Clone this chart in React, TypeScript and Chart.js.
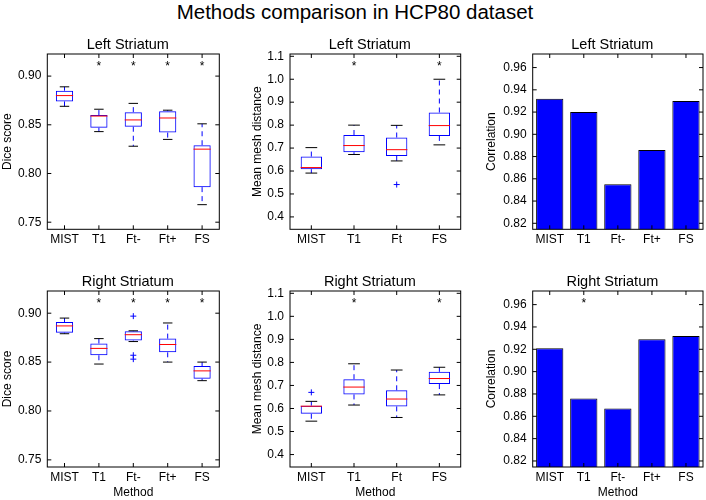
import React, { useEffect, useRef } from 'react';
import { Chart, registerables } from 'chart.js';

Chart.register(...registerables);

const W = 706;
const H = 500;
const FONT = '"Liberation Sans", Arial, Helvetica, sans-serif';
const BLUE = '#0000ff';
const RED = '#ff0000';

// ---------- categories ----------
const diceCats = ['MIST', 'T1', 'Ft-', 'Ft+', 'FS'];
const meshCats = ['MIST', 'T1', 'Ft', 'FS'];
const corrCats = ['MIST', 'T1', 'Ft-', 'Ft+', 'FS'];

// ---------- tick labels ----------
const diceTicks = [0.75, 0.8, 0.85, 0.9];
const meshTicks = [0.4, 0.5, 0.6, 0.7, 0.8, 0.9, 1.0, 1.1];
const corrTicks = [0.82, 0.84, 0.86, 0.88, 0.9, 0.92, 0.94, 0.96];

// ---------- Left Striatum – Dice score ----------
const diceLeftLow = [0.869, 0.843, 0.828, 0.835, 0.768];
const diceLeftQ1 = [0.874, 0.847, 0.848, 0.842, 0.786];
const diceLeftMed = [0.880, 0.859, 0.855, 0.857, 0.825];
const diceLeftQ3 = [0.885, 0.860, 0.863, 0.864, 0.829];
const diceLeftHigh = [0.889, 0.866, 0.872, 0.865, 0.851];
const diceLeftFliers: number[][] = [[], [], [], [], []];
const diceLeftStars = [null, 0.913, 0.913, 0.913, 0.913];

// ---------- Right Striatum – Dice score ----------
const diceRightLow = [0.879, 0.848, 0.871, 0.850, 0.831];
const diceRightQ1 = [0.880, 0.857, 0.872, 0.860, 0.833];
const diceRightMed = [0.887, 0.864, 0.878, 0.868, 0.841];
const diceRightQ3 = [0.891, 0.869, 0.8815, 0.874, 0.846];
const diceRightHigh = [0.895, 0.874, 0.882, 0.890, 0.850];
const diceRightFliers: number[][] = [[], [], [0.897, 0.857, 0.853], [], []];
const diceRightStars = [null, 0.913, 0.913, 0.913, 0.913];

// ---------- Left Striatum – Mean mesh distance ----------
const meshLeftLow = [0.591, 0.672, 0.644, 0.714];
const meshLeftQ1 = [0.608, 0.682, 0.666, 0.753];
const meshLeftMed = [0.615, 0.711, 0.693, 0.798];
const meshLeftQ3 = [0.663, 0.757, 0.746, 0.855];
const meshLeftHigh = [0.702, 0.800, 0.799, 1.0];
const meshLeftFliers: number[][] = [[], [], [0.541], []];
const meshLeftStars = [null, 1.068, null, 1.068];

// ---------- Right Striatum – Mean mesh distance ----------
const meshRightLow = [0.545, 0.615, 0.561, 0.659];
const meshRightQ1 = [0.577, 0.661, 0.609, 0.706];
const meshRightMed = [0.610, 0.693, 0.641, 0.730];
const meshRightQ3 = [0.612, 0.727, 0.679, 0.759];
const meshRightHigh = [0.631, 0.794, 0.767, 0.779];
const meshRightFliers: number[][] = [[0.670], [], [], []];
const meshRightStars = [null, 1.069, null, 1.069];

// ---------- Correlation ----------
const corrLeft = [0.932, 0.920, 0.855, 0.886, 0.930];
const corrRight = [0.921, 0.876, 0.867, 0.929, 0.932];
const corrLeftStars = [null, null, null, null, null];
const corrRightStars = [null, 0.9636, null, null, null];

// ---------- panel layout (pixel geometry of each axes box) ----------
type Area = { l: number; t: number; r: number; b: number };
const colL = [47.3, 290, 532.7];
const colR = [219.3, 460.7, 703];
const yTitleCenter = [6.7, 258, 492];
const rowT = [54, 291];
const rowB = [229.3, 467];
const TITLE_SHIFT = -5.5;

type PanelCfg = {
  kind: 'box' | 'bar';
  cats: string[];
  title: string;
  yTitle: string;
  xTitle: string;
  yMin: number;
  yMax: number;
  yTicks: number[];
  dec: number;
  low?: number[];
  q1?: number[];
  med?: number[];
  q3?: number[];
  high?: number[];
  fliers?: number[][];
  values?: number[];
  stars: (number | null)[];
  col: number;
  row: number;
};

const panels: PanelCfg[] = [
  {
    kind: 'box', cats: diceCats, title: 'Left Striatum', yTitle: 'Dice score', xTitle: '',
    yMin: 0.7427, yMax: 0.9227, yTicks: diceTicks, dec: 2,
    low: diceLeftLow, q1: diceLeftQ1, med: diceLeftMed, q3: diceLeftQ3, high: diceLeftHigh,
    fliers: diceLeftFliers, stars: diceLeftStars, col: 0, row: 0,
  },
  {
    kind: 'box', cats: meshCats, title: 'Left Striatum', yTitle: 'Mean mesh distance', xTitle: '',
    yMin: 0.346, yMax: 1.110, yTicks: meshTicks, dec: 1,
    low: meshLeftLow, q1: meshLeftQ1, med: meshLeftMed, q3: meshLeftQ3, high: meshLeftHigh,
    fliers: meshLeftFliers, stars: meshLeftStars, col: 1, row: 0,
  },
  {
    kind: 'bar', cats: corrCats, title: 'Left Striatum', yTitle: 'Correlation', xTitle: '',
    yMin: 0.8146, yMax: 0.9722, yTicks: corrTicks, dec: 2,
    values: corrLeft, stars: corrLeftStars, col: 2, row: 0,
  },
  {
    kind: 'box', cats: diceCats, title: 'Right Striatum', yTitle: 'Dice score', xTitle: 'Method',
    yMin: 0.7427, yMax: 0.9227, yTicks: diceTicks, dec: 2,
    low: diceRightLow, q1: diceRightQ1, med: diceRightMed, q3: diceRightQ3, high: diceRightHigh,
    fliers: diceRightFliers, stars: diceRightStars, col: 0, row: 1,
  },
  {
    kind: 'box', cats: meshCats, title: 'Right Striatum', yTitle: 'Mean mesh distance', xTitle: 'Method',
    yMin: 0.346, yMax: 1.110, yTicks: meshTicks, dec: 1,
    low: meshRightLow, q1: meshRightQ1, med: meshRightMed, q3: meshRightQ3, high: meshRightHigh,
    fliers: meshRightFliers, stars: meshRightStars, col: 1, row: 1,
  },
  {
    kind: 'bar', cats: corrCats, title: 'Right Striatum', yTitle: 'Correlation', xTitle: 'Method',
    yMin: 0.8146, yMax: 0.9722, yTicks: corrTicks, dec: 2,
    values: corrRight, stars: corrRightStars, col: 2, row: 1,
  },
];

// ---------- plugins ----------
function makeBoxPlugin(cfg: PanelCfg) {
  return {
    id: 'boxWhiskers',
    afterDatasetsDraw(chart: any) {
      if (cfg.kind !== 'box') return;
      const { ctx, chartArea: a } = chart;
      const xs = chart.scales.x;
      const ys = chart.scales.y;
      const meta = chart.getDatasetMeta(0);
      ctx.save();
      ctx.beginPath();
      ctx.rect(a.left, a.top, a.right - a.left, a.bottom - a.top);
      ctx.clip();
      ctx.lineWidth = 1;
      const seg = (x1: number, y1: number, x2: number, y2: number) => {
        ctx.beginPath();
        ctx.moveTo(x1, y1);
        ctx.lineTo(x2, y2);
        ctx.stroke();
      };
      cfg.low!.forEach((lo, i) => {
        const bar = meta.data[i];
        const cx = xs.getPixelForValue(i);
        const half = bar.width / 2;
        const capHalf = half * 0.55;
        const yLo = ys.getPixelForValue(lo);
        const yQ1 = ys.getPixelForValue(cfg.q1![i]);
        const yMed = ys.getPixelForValue(cfg.med![i]);
        const yQ3 = ys.getPixelForValue(cfg.q3![i]);
        const yHi = ys.getPixelForValue(cfg.high![i]);
        ctx.strokeStyle = BLUE;
        ctx.setLineDash([5, 4]);
        seg(cx, yQ3, cx, yHi);
        seg(cx, yQ1, cx, yLo);
        ctx.setLineDash([]);
        ctx.strokeStyle = '#000';
        seg(cx - capHalf, yHi, cx + capHalf, yHi);
        seg(cx - capHalf, yLo, cx + capHalf, yLo);
        ctx.strokeStyle = RED;
        seg(cx - half, yMed, cx + half, yMed);
      });
      ctx.restore();
    },
  };
}

function makeStarPlugin(cfg: PanelCfg) {
  return {
    id: 'sigStars',
    afterDatasetsDraw(chart: any) {
      const { ctx } = chart;
      const xs = chart.scales.x;
      const ys = chart.scales.y;
      ctx.save();
      ctx.fillStyle = '#000';
      ctx.font = `12px ${FONT}`;
      ctx.textAlign = 'center';
      ctx.textBaseline = 'alphabetic';
      const m = ctx.measureText('*');
      const asc = m.actualBoundingBoxAscent || 8.5;
      const desc = m.actualBoundingBoxDescent || -5;
      cfg.stars.forEach((v, i) => {
        if (v === null) return;
        const px = xs.getPixelForValue(i);
        const py = ys.getPixelForValue(v);
        ctx.fillText('*', px, py + (asc - desc) / 2);
      });
      ctx.restore();
    },
  };
}

const titleShiftPlugin = {
  id: 'titleShift',
  beforeDraw(chart: any) {
    const tb = chart.titleBlock;
    if (!tb) return;
    tb.left = chart.chartArea.left + TITLE_SHIFT;
    tb.right = chart.chartArea.right + TITLE_SHIFT;
  },
};

const frameTicksPlugin = {
  id: 'frameTicks',
  afterDraw(chart: any) {
    const { ctx, chartArea: a } = chart;
    const xs = chart.scales.x;
    const ys = chart.scales.y;
    const L = 4;
    ctx.save();
    ctx.strokeStyle = '#000';
    ctx.lineWidth = 1;
    ctx.strokeRect(a.left, a.top, a.right - a.left, a.bottom - a.top);
    ctx.beginPath();
    xs.ticks.forEach((_t: any, i: number) => {
      const px = xs.getPixelForTick(i);
      ctx.moveTo(px, a.bottom);
      ctx.lineTo(px, a.bottom - L);
      ctx.moveTo(px, a.top);
      ctx.lineTo(px, a.top + L);
    });
    ys.ticks.forEach((t: any) => {
      const py = ys.getPixelForValue(t.value);
      ctx.moveTo(a.left, py);
      ctx.lineTo(a.left + L, py);
      ctx.moveTo(a.right, py);
      ctx.lineTo(a.right - L, py);
    });
    ctx.stroke();
    ctx.restore();
  },
};

// ---------- config builder ----------
const TITLE_SIZE = 14.5;
const LABEL_SIZE = 12;

function buildConfig(cfg: PanelCfg): any {
  const area: Area = { l: colL[cfg.col], r: colR[cfg.col], t: rowT[cfg.row], b: rowB[cfg.row] };
  const titleH = TITLE_SIZE * 1.2;
  const padLeft = Math.max(0, yTitleCenter[cfg.col] - (LABEL_SIZE * 1.2) / 2);
  const yWidth = area.l - padLeft;
  const padTop = area.t - titleH;
  const padRight = W - area.r;
  let padBottom: number;
  let xHeight: number;
  if (cfg.xTitle) {
    padBottom = 0;
    xHeight = H - area.b;
  } else {
    xHeight = 20;
    padBottom = H - area.b - xHeight;
  }
  const labelFont = { family: FONT, size: LABEL_SIZE };

  let datasets: any[];
  if (cfg.kind === 'box') {
    const flierPts: { x: string; y: number }[] = [];
    cfg.fliers!.forEach((arr, i) => arr.forEach((v) => flierPts.push({ x: cfg.cats[i], y: v })));
    datasets = [
      {
        type: 'bar',
        data: cfg.q1!.map((v, i) => [v, cfg.q3![i]]),
        backgroundColor: 'rgba(0,0,0,0)',
        borderColor: BLUE,
        borderWidth: 1,
        borderSkipped: false,
        barPercentage: 0.5,
        categoryPercentage: 1,
      },
      {
        type: 'scatter',
        data: flierPts,
        pointStyle: 'cross',
        radius: 3,
        borderColor: BLUE,
        backgroundColor: BLUE,
        borderWidth: 1,
      },
    ];
  } else {
    datasets = [
      {
        type: 'bar',
        data: cfg.values,
        backgroundColor: BLUE,
        borderColor: '#000',
        borderWidth: 1,
        barPercentage: 0.8,
        categoryPercentage: 1,
      },
    ];
  }

  return {
    type: 'bar',
    data: { labels: cfg.cats, datasets },
    options: {
      responsive: false,
      animation: false,
      events: [],
      layout: {
        autoPadding: false,
        padding: { left: padLeft, right: padRight, top: padTop, bottom: padBottom },
      },
      plugins: {
        legend: { display: false },
        tooltip: { enabled: false },
        title: {
          display: true,
          text: cfg.title,
          fullSize: false,
          color: '#000',
          font: { family: FONT, size: TITLE_SIZE, weight: 'normal' },
          padding: 0,
        },
      },
      scales: {
        x: {
          type: 'category',
          offset: true,
          afterFit: (s: any) => {
            s.height = xHeight;
          },
          grid: { display: false, drawTicks: false, tickLength: 0 },
          border: { display: false },
          ticks: { font: labelFont, color: '#000', padding: 3, maxRotation: 0, autoSkip: false },
          title: { display: !!cfg.xTitle, text: cfg.xTitle, color: '#000', font: labelFont, padding: 0 },
        },
        y: {
          type: 'linear',
          min: cfg.yMin,
          max: cfg.yMax,
          afterFit: (s: any) => {
            s.width = yWidth;
          },
          afterBuildTicks: (s: any) => {
            s.ticks = cfg.yTicks.map((v) => ({ value: v }));
          },
          grid: { display: false, drawTicks: false, tickLength: 0 },
          border: { display: false },
          ticks: {
            font: labelFont,
            color: '#000',
            padding: 6,
            callback: (v: any) => Number(v).toFixed(cfg.dec),
          },
          title: { display: true, text: cfg.yTitle, color: '#000', font: labelFont, padding: 0 },
        },
      },
    },
    plugins: [titleShiftPlugin, makeBoxPlugin(cfg), makeStarPlugin(cfg), frameTicksPlugin],
  };
}

function Panel({ cfg }: { cfg: PanelCfg }) {
  const ref = useRef<HTMLCanvasElement>(null);
  useEffect(() => {
    if (!ref.current) return;
    const chart = new Chart(ref.current, buildConfig(cfg));
    return () => chart.destroy();
  }, [cfg]);
  return (
    <canvas
      ref={ref}
      width={W}
      height={H}
      style={{ position: 'absolute', left: 0, top: 0, width: W, height: H }}
    />
  );
}

export default function App() {
  return (
    <div
      style={{
        position: 'fixed',
        left: 0,
        top: 0,
        width: W,
        height: H,
        background: '#fff',
        overflow: 'hidden',
      }}
    >
      <div
        style={{
          position: 'absolute',
          left: 2,
          top: -0.5,
          width: W,
          height: 24,
          lineHeight: '24px',
          textAlign: 'center',
          fontFamily: FONT,
          fontSize: 20.5,
          color: '#000',
          whiteSpace: 'nowrap',
        }}
      >
        Methods comparison in HCP80 dataset
      </div>
      {panels.map((p, i) => (
        <Panel key={i} cfg={p} />
      ))}
    </div>
  );
}
